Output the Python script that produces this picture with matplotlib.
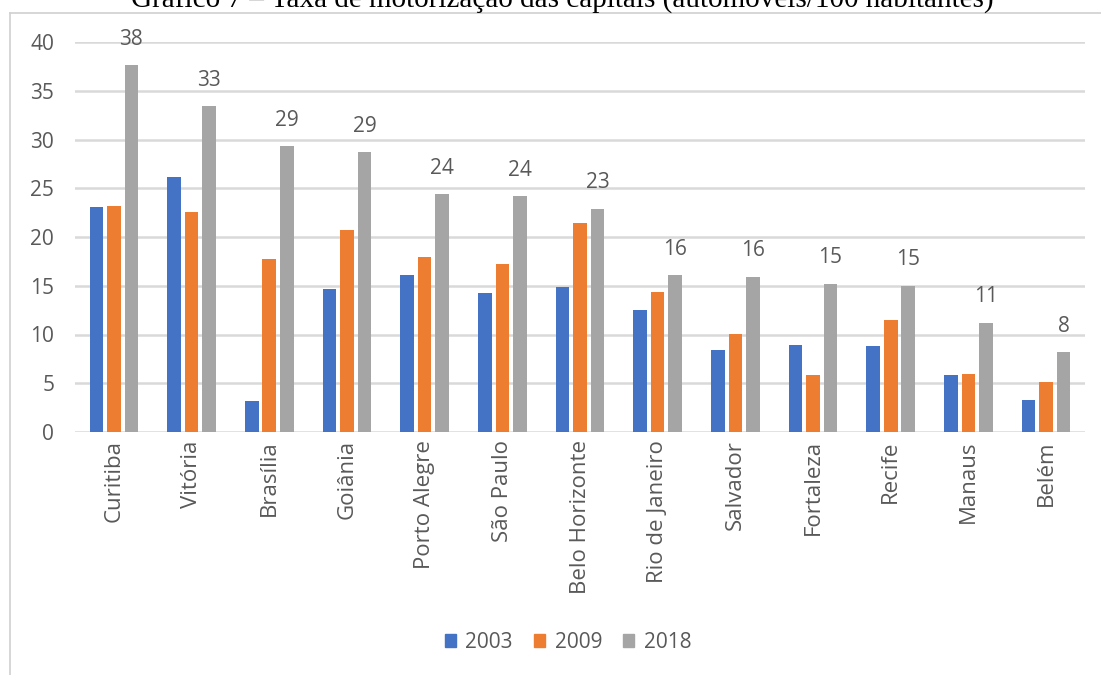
import matplotlib
matplotlib.use("Agg")
import matplotlib.pyplot as plt
import numpy as np
from matplotlib.patches import Rectangle
from matplotlib.lines import Line2D

cities = ["Curitiba", "Vitória", "Brasília", "Goiânia", "Porto Alegre", "São Paulo",
          "Belo Horizonte", "Rio de Janeiro", "Salvador", "Fortaleza", "Recife",
          "Manaus", "Belém"]
years = ["2003", "2009", "2018"]
rate_2003 = [23.1, 26.2, 3.2, 14.7, 16.1, 14.3, 14.9, 12.5, 8.4, 8.9, 8.8, 5.8, 3.3]
rate_2009 = [23.2, 22.6, 17.7, 20.7, 17.9, 17.2, 21.4, 14.4, 10.1, 5.8, 11.5, 5.9, 5.1]
rate_2018 = [37.6, 33.4, 29.3, 28.7, 24.4, 24.2, 22.9, 16.1, 15.9, 15.2, 15.0, 11.2, 8.2]
yticks = [0, 5, 10, 15, 20, 25, 30, 35, 40]

colors = ["#4472C4", "#ED7D31", "#A5A5A5"]
text_gray = "#595959"
font = "Open Sans"
fsize = 15

fig = plt.figure(figsize=(11.01, 6.75), dpi=100)
fig.patch.set_facecolor("white")

# outer frame (top and left edges)
fig.add_artist(Line2D([10 / 1101, 1.0], [1 - 12.5 / 675, 1 - 12.5 / 675],
                      transform=fig.transFigure, color="#d0d0d0", lw=1.2))
fig.add_artist(Line2D([10 / 1101, 10 / 1101], [0, 1 - 12.5 / 675],
                      transform=fig.transFigure, color="#d0d0d0", lw=1.2))

# title, partly cut off at the top
fig.text(0.511, 1 - 7 / 675,
         "Gráfico 7 – Taxa de motorização das capitais (automóveis/100 habitantes)",
         family="Liberation Serif", fontsize=21, ha="center", va="baseline",
         color="black")

ax = fig.add_axes([75 / 1101, 1 - 432 / 675, (1085 - 75) / 1101, (432 - 42) / 675])
x = np.arange(len(cities))
offset = 0.225
width = 0.175
series = [rate_2003, rate_2009, rate_2018]
for i, (vals, c) in enumerate(zip(series, colors)):
    ax.bar(x + (i - 1) * offset, vals, width, color=c, label=years[i], zorder=3)

# value labels over the 2018 bars
for xi, v in zip(x, rate_2018):
    ax.annotate(f"{v:.0f}", (xi + offset, v), xytext=(0, 26), textcoords="offset pixels",
                ha="center", va="center", fontsize=fsize, color=text_gray,
                family=font, annotation_clip=False)

ax.set_xlim(-0.5, len(cities) - 0.5)
ax.set_ylim(0, 40)
ax.set_yticks(yticks)
ax.yaxis.grid(True, color="#d9d9d9", lw=1.8, zorder=0)
ax.set_axisbelow(True)
for s in ["top", "right", "left", "bottom"]:
    ax.spines[s].set_visible(False)
ax.tick_params(axis="both", length=0)
ax.tick_params(axis="y", pad=15, labelsize=fsize, labelcolor=text_gray)
ax.tick_params(axis="x", pad=6, labelsize=16, labelcolor=text_gray)
ax.set_xticks(x)
ax.set_xticklabels(cities, rotation=90, family=font)
for lbl in ax.get_yticklabels():
    lbl.set_family(font)

handles = [Rectangle((0, 0), 1, 1, color=c) for c in colors]
fig.legend(handles, years, loc="center", bbox_to_anchor=(568 / 1101, 1 - 642 / 675),
           ncol=3, frameon=False, prop={"family": font, "size": fsize},
           labelcolor=text_gray, handlelength=0.55, handleheight=0.6,
           handletextpad=0.45, columnspacing=1.0)

fig.savefig("out.png", dpi=100, facecolor="white")
